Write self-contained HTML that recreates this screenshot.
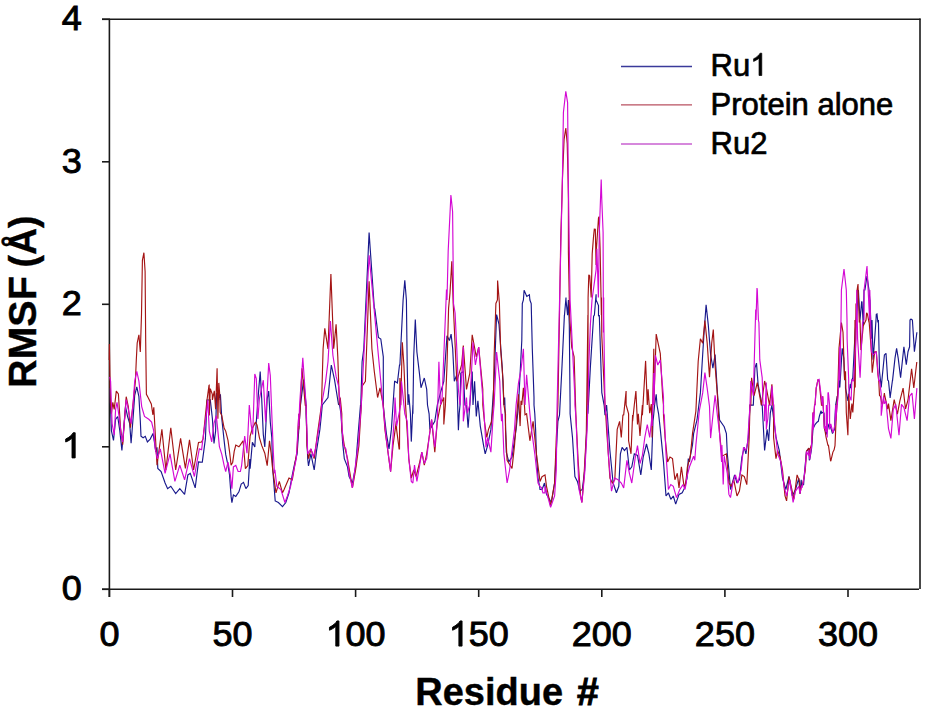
<!DOCTYPE html>
<html><head><meta charset="utf-8"><style>
html,body{margin:0;padding:0;background:#fff;}
body{width:925px;height:708px;overflow:hidden;}
svg{display:block;font-family:"Liberation Sans",sans-serif;}
</style></head><body>
<svg width="925" height="708" viewBox="0 0 925 708">
<g stroke="#1a1a1a" stroke-width="1.6" fill="none">
<line x1="102" y1="19.3" x2="920.5" y2="19.3"/>
<line x1="920" y1="18.5" x2="920" y2="589"/>
<line x1="109.4" y1="19" x2="109.4" y2="597"/>
<line x1="102" y1="589.3" x2="919" y2="589.3"/>
<line x1="109.4" y1="589" x2="109.4" y2="597" /><line x1="232.5" y1="589" x2="232.5" y2="597" /><line x1="355.6" y1="589" x2="355.6" y2="597" /><line x1="478.7" y1="589" x2="478.7" y2="597" /><line x1="601.8" y1="589" x2="601.8" y2="597" /><line x1="724.9" y1="589" x2="724.9" y2="597" /><line x1="848.0" y1="589" x2="848.0" y2="597" /><line x1="102" y1="589.3" x2="110" y2="589.3" /><line x1="102" y1="446.8" x2="110" y2="446.8" /><line x1="102" y1="304.3" x2="110" y2="304.3" /><line x1="102" y1="161.8" x2="110" y2="161.8" /><line x1="102" y1="19.3" x2="110" y2="19.3" />
</g>
<g><polyline points="109.9,388.2 111.4,430.6 113.5,440.5 115.6,419.3 117.7,416.5 119.8,430.6 121.9,450.4 124.1,423.6 125.5,406.6 127.6,416.5 129.7,423.6 131.1,443.3 133.2,416.5 134.7,395.3 136.8,386.8 138.9,396.7 140.3,420.7 141.0,436.3 143.1,437.7 145.3,436.3 147.4,441.9 150.2,439.1 153.0,433.4 154.4,441.9 155.8,451.8 157.0,447.3 157.8,468.4 161.1,471.6 165.1,483.0 167.6,488.7 170.8,486.3 175.7,493.6 179.8,488.7 184.6,494.4 187.9,474.9 190.3,473.3 195.2,487.9 198.5,461.9 202.3,462.2 205.4,438.9 207.0,400.0 210.1,400.0 210.3,399.9 212.4,418.7 214.0,443.5 215.6,431.1 216.6,393.1 217.9,400.0 219.9,394.2 220.2,400.0 220.4,394.3 221.8,418.7 224.1,440.4 225.7,454.4 228.0,465.3 229.5,474.7 231.1,496.4 231.9,502.6 233.4,494.9 235.8,496.4 238.9,491.8 241.2,484.0 243.5,482.4 245.9,488.6 248.2,485.5 249.8,459.1 250.1,468.7 252.4,442.3 254.8,447.0 256.3,422.1 258.6,391.1 260.2,371.6 261.7,398.8 263.3,434.5 264.8,447.0 267.2,398.8 268.7,391.1 270.3,422.1 271.8,437.6 272.6,468.7 272.8,470.0 275.2,500.9 278.4,502.5 282.5,506.6 285.8,502.5 289.0,492.8 292.3,474.9 294.7,463.5 297.1,453.8 298.8,429.4 300.4,405.0 300.4,405.6 303.6,379.6 306.1,405.0 306.1,413.8 307.7,458.6 308.5,465.9 310.9,453.8 314.2,470.0 316.6,450.5 319.9,429.4 321.5,413.8 322.3,405.0 328.0,397.5 331.3,365.0 334.5,379.6 338.6,405.0 339.4,404.0 341.0,413.8 342.6,442.4 344.3,458.6 347.5,466.8 349.1,476.5 352.4,483.0 355.6,466.8 358.1,434.3 360.5,405.0 360.5,413.8 362.1,361.8 363.8,348.8 369.1,232.5 374.3,308.1 374.8,308.9 378.4,337.4 380.8,339.0 383.3,356.9 383.3,405.0 384.1,413.8 386.5,434.3 389.0,448.9 391.4,429.4 393.0,405.0 394.6,381.3 395.0,381.3 397.4,382.9 399.5,365.0 399.9,365.0 403.1,300.0 404.8,280.4 406.4,300.0 407.2,365.0 408.0,405.0 408.8,394.3 410.4,413.8 411.3,441.6 412.9,405.0 412.9,413.8 413.7,356.9 415.3,319.5 416.9,352.0 419.4,373.1 421.0,387.8 424.3,378.0 426.7,389.4 427.5,405.0 429.1,413.8 429.9,429.4 434.8,421.3 437.3,405.0 440.5,392.6 443.8,381.3 447.0,335.8 449.4,340.6 451.1,334.1 452.7,348.8 454.3,381.3 456.8,374.8 458.4,430.2 459.2,413.8 460.0,405.0 460.8,373.1 463.3,371.5 464.9,405.0 466.5,405.6 468.1,427.8 469.8,405.0 472.2,371.5 473.0,405.0 474.6,381.3 476.3,416.4 477.9,400.8 480.3,426.1 483.6,445.6 485.2,453.8 487.6,445.6 490.9,429.4 492.5,405.0 494.1,381.3 496.6,314.6 499.0,324.4 502.3,368.3 503.9,405.0 504.7,397.5 506.3,452.1 508.8,461.9 512.0,457.0 516.1,429.4 518.5,405.0 521.8,340.6 522.3,303.5 523.4,300.0 524.1,290.3 526.8,296.5 529.4,294.7 529.9,300.0 531.2,303.5 532.3,348.8 534.0,397.5 534.0,405.0 534.8,413.8 535.6,429.4 536.4,453.8 538.0,478.1 539.6,486.3 540.0,489.5 541.6,489.5 542.1,489.5 544.5,483.0 546.5,494.4 551.4,502.5 554.6,483.0 557.9,421.3 559.5,415.1 561.9,368.3 564.4,315.1 564.4,316.3 566.0,297.5 566.0,300.0 567.6,315.1 568.4,300.0 569.3,324.4 570.1,405.0 570.1,413.8 572.5,437.5 574.9,476.5 577.4,481.4 579.8,491.1 582.3,489.5 584.7,470.0 587.1,421.3 587.9,405.0 587.9,413.8 590.4,366.6 593.6,316.3 594.4,315.1 596.1,294.3 596.1,300.0 598.5,305.6 598.5,316.3 599.3,315.1 601.8,392.6 604.2,405.6 605.0,415.1 606.6,405.0 609.9,450.5 613.1,483.0 616.4,492.8 618.8,486.3 620.4,453.8 622.1,447.3 624.5,450.5 626.9,447.3 629.4,470.0 631.8,466.8 634.3,453.8 637.5,455.4 640.8,474.9 643.2,457.0 646.5,444.0 648.9,453.8 651.3,470.0 653.0,421.3 653.8,413.8 654.6,405.0 656.2,394.3 657.0,405.0 658.6,413.8 660.3,429.4 663.5,461.9 666.0,496.0 668.4,492.8 670.8,499.3 673.3,496.0 675.7,504.1 679.0,494.4 682.2,492.8 684.6,487.9 685.0,486.3 687.1,478.1 688.3,458.6 689.5,461.9 690.3,456.2 692.5,444.9 693.6,433.6 697.0,420.0 700.4,392.9 702.0,365.8 703.8,336.4 706.1,304.8 708.3,325.1 710.6,354.5 712.9,368.1 715.1,354.5 717.4,392.9 719.6,420.0 724.2,426.8 726.4,433.6 727.3,453.8 728.9,470.0 730.5,489.5 734.6,474.9 737.0,483.0 739.4,479.8 741.9,457.0 744.3,447.3 745.9,453.8 748.4,437.5 750.0,405.0 753.3,405.1 754.9,368.0 756.5,363.1 758.1,384.3 761.4,402.1 761.4,405.0 762.2,405.1 764.6,450.5 767.1,429.4 768.7,440.8 770.3,413.1 771.9,405.0 776.0,437.5 779.3,450.5 782.5,478.1 785.8,489.5 789.0,476.5 792.3,496.0 795.5,489.5 798.8,478.1 800.0,493.6 801.2,479.8 801.6,485.5 803.6,484.6 804.1,477.4 806.1,455.4 806.5,451.4 808.9,448.2 809.3,460.3 809.7,459.5 811.4,449.8 811.8,445.6 813.0,428.7 814.6,425.5 815.0,424.5 817.0,422.2 818.3,421.3 819.5,415.7 821.1,410.8 821.5,413.1 822.7,412.5 824.0,413.1 824.4,427.1 826.0,433.6 826.4,434.3 828.8,424.5 829.2,423.8 831.3,429.4 832.5,433.6 834.5,429.4 834.9,419.0 835.7,404.9 837.3,396.2 837.3,397.1 839.8,380.0 839.8,387.4 842.2,348.4 843.8,358.2 844.6,380.0 845.5,379.3 845.5,388.1 847.9,400.4 847.9,401.1 850.3,384.2 850.3,388.1 851.9,380.0 852.8,377.7 855.2,330.6 856.8,314.4 858.4,290.0 860.0,320.0 861.7,301.4 862.0,302.0 863.3,325.7 864.0,290.0 864.9,290.0 867.0,276.0 869.0,290.0 869.8,299.7 870.0,300.0 871.4,338.7 872.0,320.0 873.1,359.8 874.7,338.7 876.0,320.0 876.3,314.4 877.0,314.0 877.9,322.5 878.4,320.0 879.5,371.2 881.2,387.4 884.4,354.9 886.0,353.3 887.7,380.0 888.5,380.9 890.1,397.1 890.1,397.9 892.5,380.0 892.5,380.9 895.0,358.2 896.6,348.4 898.2,358.2 900.6,377.7 903.9,346.8 906.3,364.7 908.0,351.7 909.6,346.8 910.0,320.0 911.0,319.0 911.2,319.2 912.4,320.0 913.6,338.7 914.4,351.7 916.9,332.2" fill="none" stroke="#18188c" stroke-width="1.15" stroke-linejoin="miter" stroke-miterlimit="2"/><polyline points="109.2,360.0 109.4,343.9 110.4,402.4 111.4,413.7 112.8,402.4 114.2,409.4 116.3,391.1 118.4,393.9 120.5,427.8 122.7,444.7 126.2,396.7 128.3,406.6 130.4,427.8 133.2,402.4 135.4,381.2 136.3,360.0 137.2,343.0 138.9,334.9 140.3,351.9 141.5,314.6 142.4,260.3 143.9,252.7 145.1,271.4 145.7,341.7 146.4,394.3 148.1,397.5 151.3,404.0 152.9,414.8 153.8,407.3 157.0,465.1 161.9,429.4 165.9,470.0 170.8,427.8 175.7,470.0 180.6,438.3 185.4,468.4 189.5,439.9 193.6,470.0 198.5,442.4 201.6,442.0 203.1,438.9 205.4,415.6 207.0,400.0 209.0,385.3 209.2,385.2 209.3,415.6 210.3,388.6 212.3,394.3 212.4,400.0 214.3,390.8 215.6,409.3 217.1,368.2 217.1,368.3 217.9,418.7 218.8,382.9 219.9,396.5 220.2,412.4 221.8,415.6 224.1,428.0 225.7,431.1 228.0,440.4 229.5,451.3 231.1,465.3 232.7,462.2 234.2,451.3 235.8,445.1 238.9,446.7 240.0,445.4 243.1,440.7 245.4,468.7 247.8,465.6 250.1,436.1 252.4,428.3 255.5,422.1 257.1,425.2 259.4,437.6 261.7,445.4 264.8,453.2 267.2,465.6 269.5,440.7 271.1,453.2 272.6,468.7 276.0,492.8 279.3,481.4 282.5,492.8 284.1,489.5 289.0,478.1 292.3,479.8 297.1,450.5 298.8,413.8 298.8,429.4 300.4,405.0 302.0,368.3 305.3,405.6 306.1,405.0 306.9,445.6 308.5,458.6 310.9,448.9 314.2,458.6 317.4,434.3 321.5,405.0 321.5,405.6 323.1,348.8 324.8,328.4 328.0,348.8 330.9,273.9 333.7,348.8 336.1,324.4 337.8,356.9 339.4,405.0 340.2,397.5 341.8,413.8 341.8,429.4 344.3,445.6 347.5,458.6 352.4,487.9 355.6,470.0 358.9,445.6 361.3,405.0 362.1,386.1 365.4,381.3 369.1,281.3 371.9,348.8 374.3,371.5 377.6,397.5 380.0,387.8 383.3,405.6 384.9,429.4 390.6,471.6 393.0,445.6 396.3,421.3 396.6,429.4 399.1,448.9 399.5,448.9 399.9,378.0 400.7,405.0 402.3,342.3 403.9,365.0 405.6,405.6 408.8,458.6 411.3,478.1 413.7,470.0 416.1,476.5 419.4,463.5 421.8,452.1 424.3,465.1 426.7,453.8 429.1,437.5 431.6,419.6 434.8,452.1 437.3,421.3 440.5,405.0 443.8,397.5 443.8,424.5 445.4,405.0 447.0,365.0 448.6,308.1 450.0,292.9 451.8,261.2 453.2,303.5 456.8,381.3 461.6,365.0 463.3,345.5 466.5,389.4 469.8,373.1 472.2,334.9 476.3,356.9 478.7,347.1 482.8,389.4 482.8,405.0 484.4,421.3 486.8,437.5 488.5,429.4 491.7,421.3 493.3,405.0 494.1,356.9 495.9,303.5 497.4,300.0 497.6,280.6 499.4,303.5 500.6,348.8 503.1,381.3 503.9,405.0 505.5,413.8 505.5,429.4 507.1,460.3 512.0,468.4 514.5,445.6 516.9,413.1 518.5,394.3 520.1,426.1 521.0,400.8 521.8,405.0 523.4,387.8 525.0,414.8 526.6,413.8 529.9,440.8 533.1,421.3 536.4,453.8 539.6,478.1 540.0,481.4 542.1,476.5 542.4,476.5 545.0,474.9 546.5,486.3 550.6,505.8 554.6,483.0 556.3,437.5 557.9,405.0 559.5,315.1 560.8,235.8 561.9,200.0 562.4,179.9 564.1,139.3 565.8,128.0 567.2,143.5 568.1,179.9 568.4,200.0 568.4,252.0 569.6,315.1 571.7,347.1 574.1,356.9 575.8,413.1 575.8,413.8 578.2,461.9 580.6,496.0 581.9,502.5 583.9,478.1 586.3,434.3 587.9,315.1 587.9,405.0 588.1,297.4 588.8,274.8 589.7,275.7 591.2,297.5 592.2,253.9 593.6,235.8 594.3,229.1 595.3,229.3 596.1,265.0 596.5,247.7 598.5,217.9 599.0,216.6 600.1,248.8 601.4,315.1 601.5,297.4 601.8,335.8 605.0,405.0 605.0,405.6 605.8,415.1 606.6,429.4 608.3,453.8 609.9,478.1 612.3,483.0 614.8,479.8 617.2,429.4 619.6,421.3 621.3,437.5 622.9,415.1 623.7,414.8 626.1,391.0 626.1,405.0 628.6,413.8 628.6,440.8 631.0,453.8 632.6,415.1 632.6,421.3 634.3,405.0 635.9,391.0 637.5,424.5 638.3,413.8 640.0,435.9 642.4,405.0 642.4,415.1 645.6,360.9 647.3,405.0 648.1,389.4 649.7,413.1 651.3,404.0 652.1,437.5 653.8,348.8 653.8,405.0 656.2,334.1 660.3,353.6 662.7,397.5 663.5,405.0 663.5,415.1 665.1,437.5 667.6,461.9 670.0,457.0 672.5,458.6 674.9,479.8 677.3,473.3 679.0,487.9 681.4,466.8 683.8,484.6 685.0,486.3 686.3,478.1 687.4,466.8 690.3,456.2 692.5,433.6 695.9,411.0 698.2,361.3 700.4,338.7 702.7,343.2 704.9,320.6 707.2,343.2 709.5,377.1 711.7,343.2 713.3,329.6 715.1,365.8 717.4,395.2 719.6,433.6 721.9,456.2 726.4,453.8 728.9,483.0 731.3,486.3 733.8,479.8 737.0,496.0 739.4,491.1 741.9,474.9 744.3,476.5 746.8,484.6 749.2,437.5 750.0,405.1 750.8,405.0 751.6,377.8 754.1,395.6 757.3,382.6 761.4,405.1 764.6,381.0 766.3,387.5 769.5,405.1 771.9,384.3 772.8,405.0 773.6,405.1 773.6,437.5 776.0,458.6 777.6,450.5 780.1,457.0 782.5,470.0 785.0,496.0 786.6,500.9 789.0,476.5 791.5,487.9 793.9,499.3 797.1,474.9 799.6,481.4 800.0,493.6 801.6,485.5 802.0,486.3 804.1,477.4 805.3,470.0 806.5,451.4 806.9,450.5 808.9,448.2 809.7,456.3 810.1,448.9 811.4,444.9 811.8,442.4 813.0,412.5 813.4,421.3 814.6,404.4 815.0,405.0 815.0,405.1 816.2,388.1 817.9,380.0 819.1,381.0 821.5,405.1 822.3,405.0 822.7,396.2 824.4,428.7 824.8,429.4 826.0,436.8 828.0,445.6 828.4,444.9 830.5,460.3 830.8,461.2 832.9,452.1 834.1,449.8 835.0,445.6 835.7,428.7 837.3,396.2 837.3,404.9 838.1,380.0 839.0,348.4 841.4,322.5 843.0,332.2 844.6,380.0 845.5,371.2 846.3,412.5 847.9,435.2 848.7,393.9 850.3,419.0 851.9,403.6 852.8,412.5 854.4,388.1 855.0,320.0 855.2,380.0 855.2,387.4 856.0,304.0 856.8,303.0 857.1,290.0 858.0,284.0 859.3,322.5 860.0,320.0 860.9,350.1 863.3,325.7 866.0,320.0 866.6,312.7 867.4,314.0 869.0,322.5 869.0,320.0 871.4,351.7 872.2,372.8 874.7,351.7 876.3,351.7 877.9,374.4 878.7,380.0 879.5,395.5 880.4,396.2 882.0,404.4 882.8,403.6 884.4,393.0 884.4,393.9 887.7,409.2 888.5,403.6 890.9,420.6 894.2,399.5 897.4,414.1 899.8,401.1 903.1,388.1 905.5,409.0 908.0,400.0 911.6,368.8 913.8,388.0 916.8,362.0" fill="none" stroke="#a41414" stroke-width="1.15" stroke-linejoin="miter" stroke-miterlimit="2"/><polyline points="109.7,376.9 110.6,381.2 112.1,423.6 114.2,434.9 115.6,409.4 117.0,402.4 119.1,416.5 121.2,434.9 122.7,441.9 126.2,399.5 128.3,409.4 131.1,423.6 133.2,402.4 134.7,381.2 136.8,371.3 138.9,381.2 141.7,406.6 144.5,416.5 148.8,419.3 151.6,422.1 153.7,430.6 155.1,447.6 157.3,458.9 160.3,448.9 165.1,473.3 170.0,453.8 174.9,481.4 179.8,465.1 184.6,479.8 189.5,458.6 194.4,476.5 199.3,448.9 201.6,449.8 203.9,431.1 206.2,415.6 207.8,400.0 209.3,431.1 211.7,442.0 214.0,423.3 216.3,415.6 217.9,431.1 219.4,446.7 221.8,454.4 224.1,465.3 225.7,471.5 228.0,462.2 230.3,474.7 231.9,488.6 233.4,466.9 235.8,465.3 238.1,471.5 240.4,471.5 241.6,465.6 244.7,436.1 247.0,453.2 249.3,405.0 251.2,425.2 252.7,434.5 254.8,374.0 256.3,378.6 257.9,419.0 259.4,398.8 263.3,380.2 265.6,422.1 268.7,363.1 270.3,375.5 271.8,414.3 273.4,453.2 274.4,473.3 274.9,469.9 276.8,486.3 280.9,489.5 284.9,502.5 287.4,496.0 290.6,486.3 293.1,473.3 296.3,458.6 298.8,413.8 298.8,426.1 299.6,405.0 302.8,357.7 306.1,405.0 306.1,405.6 307.7,453.8 310.9,448.9 313.4,457.0 315.8,447.3 319.9,421.3 321.5,405.6 325.6,381.3 328.0,361.8 330.4,321.1 332.9,355.3 336.1,376.4 338.6,386.1 341.0,413.1 341.0,413.8 343.5,445.6 345.9,448.9 349.1,473.3 352.4,487.9 354.8,470.0 358.1,445.6 361.3,405.0 369.1,255.3 385.7,434.3 390.6,471.6 394.6,413.1 395.0,397.5 396.6,426.1 400.7,405.0 401.5,381.3 404.8,413.8 407.2,421.3 408.8,458.6 411.3,481.4 412.9,483.0 414.5,465.1 416.9,481.4 419.4,466.8 421.8,452.1 424.3,463.5 426.7,458.6 429.1,437.5 431.6,419.6 434.8,447.3 437.3,421.3 438.9,361.8 440.5,405.0 442.1,397.5 446.5,289.4 447.0,300.0 448.2,250.6 450.9,195.0 452.6,211.8 453.5,300.0 453.5,303.5 455.1,313.0 456.8,348.8 458.4,389.4 460.0,405.0 463.3,347.1 463.3,421.3 466.5,397.5 467.3,413.1 469.8,405.0 473.0,342.3 475.4,365.0 478.7,347.1 482.8,397.5 483.6,405.0 486.0,447.3 487.6,437.5 490.9,452.1 493.3,413.8 494.1,405.0 496.6,352.0 499.8,381.3 500.6,405.0 501.5,421.3 502.3,413.8 503.9,453.8 507.1,483.0 509.6,470.0 512.0,450.5 514.5,429.4 516.1,405.0 518.5,382.9 521.0,369.9 523.4,348.8 525.0,405.0 526.6,374.8 529.9,413.8 531.5,429.4 534.8,453.8 538.0,483.0 540.0,486.3 541.6,487.9 542.9,492.8 544.9,492.8 545.0,486.3 550.6,507.4 554.6,496.0 556.3,470.0 557.1,405.0 562.4,179.9 563.4,112.5 565.8,91.3 567.6,102.6 568.3,179.9 570.1,300.0 572.5,348.8 574.9,397.5 574.9,405.0 575.8,415.1 579.0,489.5 581.9,502.5 584.7,473.3 587.1,429.4 587.9,405.0 588.8,365.0 590.4,324.4 592.0,300.0 596.1,269.9 596.9,248.8 598.4,297.4 599.3,232.5 601.2,179.4 601.8,200.0 603.1,232.5 603.4,332.5 603.7,297.4 603.7,315.1 605.0,405.0 605.8,413.8 606.6,415.1 608.3,453.8 611.5,491.1 614.8,478.1 618.0,479.8 621.3,483.0 623.7,487.9 626.9,460.3 629.4,473.3 631.8,483.0 635.1,458.6 637.5,445.6 640.0,463.5 642.4,455.4 644.8,437.5 647.3,424.5 649.7,437.5 652.1,415.1 652.1,426.1 653.8,373.1 653.8,405.0 655.4,355.3 657.8,365.0 660.3,360.1 663.5,397.5 663.5,413.1 664.3,415.1 666.0,453.8 668.4,489.5 670.8,484.6 673.3,486.3 676.5,497.6 679.8,489.5 683.0,484.6 685.0,489.5 686.3,483.0 686.6,478.1 689.5,466.8 693.6,456.2 694.8,460.3 695.9,444.9 699.3,411.0 702.7,392.9 704.9,372.6 707.2,388.4 709.5,406.5 710.6,438.1 712.9,415.5 715.1,395.2 717.4,415.5 719.6,433.6 721.6,461.9 721.9,444.9 723.2,484.6 724.2,456.2 727.3,473.3 728.9,494.4 730.5,497.6 732.9,483.0 735.4,474.9 737.8,483.0 741.1,470.0 743.5,447.3 745.9,450.5 747.6,442.4 750.0,405.0 750.0,405.1 750.8,381.0 753.3,395.6 755.7,309.5 756.0,320.0 757.0,288.0 757.3,290.0 758.4,320.0 758.9,322.5 759.8,359.9 762.2,377.8 763.0,405.0 764.6,405.1 764.6,421.3 766.3,382.6 766.3,429.4 767.9,418.0 768.7,405.1 771.1,405.0 771.9,385.9 773.6,405.1 774.4,421.3 777.6,453.8 780.9,461.9 784.1,486.3 786.6,496.0 789.8,479.8 793.1,502.5 795.5,491.1 798.8,486.3 800.0,493.6 801.6,485.5 802.0,487.9 804.1,477.4 805.3,466.8 806.5,451.4 808.5,455.4 808.9,449.8 809.7,459.5 811.0,450.5 811.4,448.2 813.0,412.5 813.4,429.4 814.6,404.4 815.0,405.0 815.0,405.1 816.2,388.1 817.9,380.0 819.1,379.4 822.3,405.0 822.3,405.1 822.7,396.2 824.4,428.7 824.8,426.1 826.0,431.9 826.4,405.1 827.2,437.5 828.0,392.4 828.4,393.0 829.6,405.1 829.6,429.4 830.8,423.8 832.9,432.6 833.3,431.9 835.0,424.5 835.7,404.9 835.7,420.6 838.1,396.2 839.8,346.8 839.8,380.0 841.0,320.0 841.4,290.0 844.0,269.0 846.3,290.0 847.0,320.0 847.1,338.7 848.7,380.0 848.7,387.4 849.5,396.2 851.1,400.4 851.9,380.0 853.6,380.9 856.0,338.7 856.8,290.0 857.6,338.7 860.1,377.7 862.5,322.5 864.0,320.0 864.1,290.0 867.0,266.0 869.6,320.0 869.8,290.0 871.4,351.7 873.1,354.9 876.3,351.7 878.7,380.9 879.5,380.0 881.2,393.9 881.2,415.7 883.6,396.2 884.4,403.6 886.0,401.1 888.5,428.7 890.9,438.4 893.3,409.2 895.8,404.4 899.0,435.2 901.5,404.4 903.9,407.6 907.1,420.6 909.6,396.2 912.0,393.0 914.4,419.0 916.9,388.1" fill="none" stroke="#d408d4" stroke-width="1.15" stroke-linejoin="miter" stroke-miterlimit="2"/></g>
<g font-size="35" fill="#000" stroke="#000" stroke-width="0.9"><text transform="translate(99.38,646.10) scale(1.03,1)">0</text><text transform="translate(212.45,646.10) scale(1.03,1)">5</text><text transform="translate(232.50,646.10) scale(1.03,1)">0</text><path vector-effect="non-scaling-stroke" transform="translate(325.53,646.10) scale(0.01760,-0.01709)" d="M763 0H583V1147Q518 1085 412.5 1023Q307 961 223 930V1104Q374 1175 487 1276Q600 1377 647 1472H763V0Z"/><text transform="translate(345.58,646.10) scale(1.03,1)">0</text><text transform="translate(365.62,646.10) scale(1.03,1)">0</text><path vector-effect="non-scaling-stroke" transform="translate(448.63,646.10) scale(0.01760,-0.01709)" d="M763 0H583V1147Q518 1085 412.5 1023Q307 961 223 930V1104Q374 1175 487 1276Q600 1377 647 1472H763V0Z"/><text transform="translate(468.68,646.10) scale(1.03,1)">5</text><text transform="translate(488.72,646.10) scale(1.03,1)">0</text><text transform="translate(571.73,646.10) scale(1.03,1)">2</text><text transform="translate(591.78,646.10) scale(1.03,1)">0</text><text transform="translate(611.82,646.10) scale(1.03,1)">0</text><text transform="translate(694.83,646.10) scale(1.03,1)">2</text><text transform="translate(714.88,646.10) scale(1.03,1)">5</text><text transform="translate(734.92,646.10) scale(1.03,1)">0</text><text transform="translate(817.93,646.10) scale(1.03,1)">3</text><text transform="translate(837.98,646.10) scale(1.03,1)">0</text><text transform="translate(858.02,646.10) scale(1.03,1)">0</text><text transform="translate(61.75,600.40) scale(1.03,1)">0</text><path vector-effect="non-scaling-stroke" transform="translate(61.75,457.90) scale(0.01760,-0.01709)" d="M763 0H583V1147Q518 1085 412.5 1023Q307 961 223 930V1104Q374 1175 487 1276Q600 1377 647 1472H763V0Z"/><text transform="translate(61.75,315.40) scale(1.03,1)">2</text><text transform="translate(61.75,172.90) scale(1.03,1)">3</text><text transform="translate(61.75,30.40) scale(1.03,1)">4</text></g>
<g fill="#000" font-size="31" stroke="#000" stroke-width="0.7">
<text x="710.6" y="75.5">Ru</text><path vector-effect="non-scaling-stroke" transform="translate(750.22,75.50) scale(0.01514,-0.01514)" d="M763 0H583V1147Q518 1085 412.5 1023Q307 961 223 930V1104Q374 1175 487 1276Q600 1377 647 1472H763V0Z"/>
<text x="710.6" y="114.5">Protein alone</text>
<text x="710.6" y="153.5">Ru2</text>
</g>
<g stroke-width="1.3">
<line x1="621" y1="66.5" x2="692" y2="66.5" stroke="#3a3a9a"/>
<line x1="621" y1="104.8" x2="692" y2="104.8" stroke="#b85060"/>
<line x1="621" y1="144" x2="692" y2="144" stroke="#c860d0"/>
</g>
<g font-weight="bold" fill="#000" stroke="#000">
<text transform="translate(415.3,705) scale(0.974,1)" font-size="39" stroke-width="0.4">Residue</text><text transform="translate(577.0,705) scale(1.0,1)" font-size="39" stroke-width="1.0">#</text>
<text transform="translate(35.8,388.0) rotate(-90) scale(1.031,1)" font-size="38.3" stroke-width="0.4">RMSF</text><text transform="translate(35.8,267.5) rotate(-90) scale(0.975,1)" font-size="38.3" stroke-width="0.4">(Å)</text>
</g>
</svg>
</body></html>
